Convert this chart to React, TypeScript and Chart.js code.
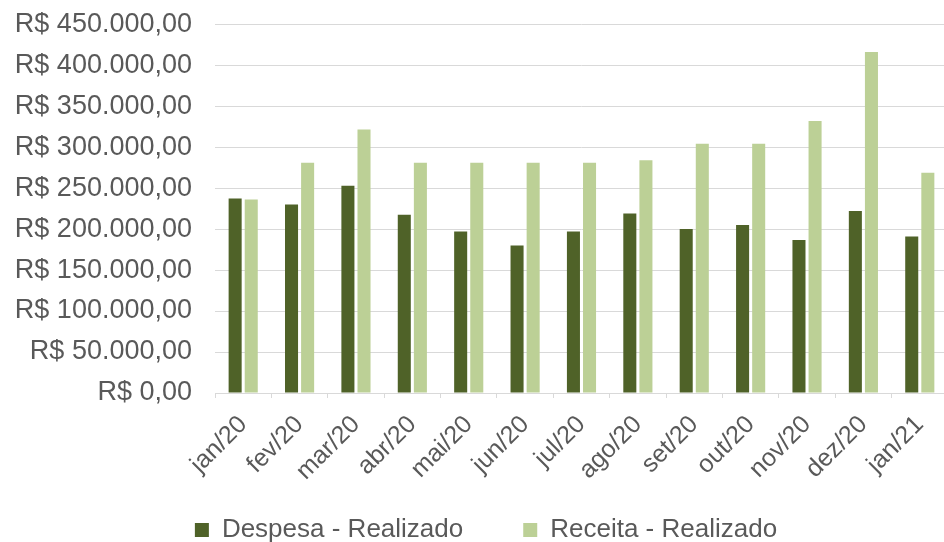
import React, { useEffect, useRef } from "react";
import { Chart, registerables } from "chart.js";

Chart.register(...registerables);

const categories = [
  "jan/20", "fev/20", "mar/20", "abr/20", "mai/20", "jun/20", "jul/20",
  "ago/20", "set/20", "out/20", "nov/20", "dez/20", "jan/21",
];
const despesaRealizado = [
  237400, 230000, 253000, 217400, 197000, 180000, 197000,
  219000, 200000, 205000, 186600, 222000, 191000,
];
const receitaRealizado = [
  236200, 281000, 321600, 281000, 281000, 281000, 281000,
  284000, 304000, 304000, 332000, 416000, 268700,
];
const seriesNames = ["Despesa - Realizado", "Receita - Realizado"];
const yMin = 0;
const yMax = 450000;
const yStep = 50000;

const FONT = "'Liberation Sans', Arial, sans-serif";
const TEXT = "#595959";
const GRID = "#D9D9D9";

function formatBRL(v: number): string {
  const fixed = Math.round(v * 100);
  const intPart = Math.floor(fixed / 100).toString();
  const dec = (fixed % 100).toString().padStart(2, "0");
  const withDots = intPart.replace(/\B(?=(\d{3})+(?!\d))/g, ".");
  return "R$ " + withDots + "," + dec;
}

export default function App() {
  const ref = useRef<HTMLCanvasElement | null>(null);

  useEffect(() => {
    if (!ref.current) return;
    const chart = new Chart(ref.current, {
      type: "bar",
      data: {
        labels: categories,
        datasets: [
          {
            label: seriesNames[0],
            data: despesaRealizado,
            backgroundColor: "#4F6228",
            borderWidth: 0,
            categoryPercentage: 0.571,
            barPercentage: 0.81,
          },
          {
            label: seriesNames[1],
            data: receitaRealizado,
            backgroundColor: "#BCD096",
            borderWidth: 0,
            categoryPercentage: 0.571,
            barPercentage: 0.81,
          },
        ],
      },
      options: {
        responsive: false,
        animation: false,
        layout: { padding: { left: 19, right: 0, top: 9, bottom: 0 } },
        plugins: {
          title: { display: false },
          tooltip: { enabled: false },
          legend: {
            position: "bottom",
            align: "center",
            labels: {
              boxWidth: 14,
              boxHeight: 14,
              padding: 60,
              color: TEXT,
              font: { family: FONT, size: 26 },
            },
          },
        },
        scales: {
          x: {
            grid: {
              offset: true,
              drawOnChartArea: false,
              drawTicks: true,
              tickLength: 5,
              color: GRID,
            },
            border: { display: true, color: GRID },
            ticks: {
              color: TEXT,
              font: { family: FONT, size: 25 },
              minRotation: 45,
              maxRotation: 45,
              autoSkip: false,
              padding: 12,
            },
            afterFit: (scale: any) => {
              scale.height = 64;
              scale._computeLabelArea = () => undefined;
            },
          },
          y: {
            min: yMin,
            max: yMax,
            grid: {
              color: GRID,
              drawTicks: true,
              tickLength: 15,
              tickColor: "rgba(0,0,0,0)",
            },
            border: { display: false },
            ticks: {
              stepSize: yStep,
              color: TEXT,
              padding: 8,
              font: { family: FONT, size: 27 },
              callback: (v: any) => formatBRL(Number(v)),
            },
            afterFit: (scale: any) => {
              scale.width = 196;
              scale._computeLabelArea = () => undefined;
            },
          },
        },
      },
    });
    return () => chart.destroy();
  }, []);

  return (
    <div
      style={{
        position: "fixed",
        left: 0,
        top: 0,
        width: 944,
        height: 542,
        overflow: "hidden",
        background: "#ffffff",
      }}
    >
      <canvas ref={ref} width={953} height={553} style={{ display: "block" }} />
    </div>
  );
}
